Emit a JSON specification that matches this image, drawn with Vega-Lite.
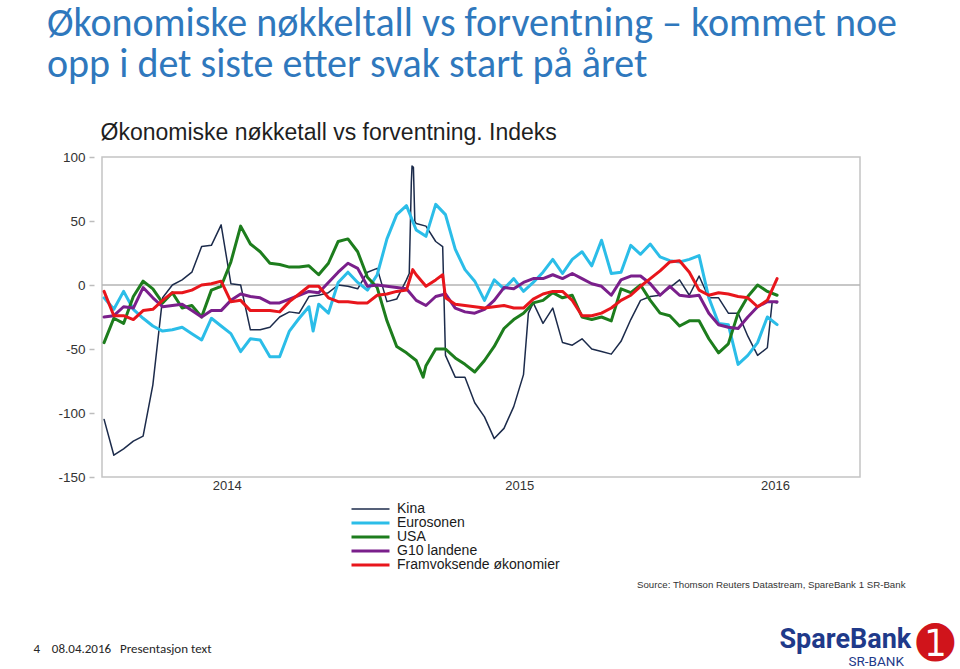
{
  "$schema": "https://vega.github.io/schema/vega-lite/v6.json",
  "width": 758,
  "height": 320,
  "autosize": {"type": "none"},
  "padding": {"left": 102, "top": 157, "right": 100, "bottom": 192},
  "background": "white",
  "title": {
    "text": ["Økonomiske nøkkeltall vs forventning – kommet noe", "opp i det siste etter svak start på året"],
    "anchor": "start",
    "frame": "group",
    "dx": -55,
    "offset": 36,
    "font": "Carlito, Lato",
    "fontSize": 40,
    "fontWeight": "normal",
    "color": "#2F78BD",
    "lineHeight": 41
  },
  "config": {
    "view": {"stroke": "#c4c4c4", "strokeWidth": 1.5},
    "axis": {"grid": false},
    "legend": {
      "orient": "none",
      "legendX": 248,
      "legendY": 345,
      "symbolType": "stroke",
      "symbolSize": 1444,
      "labelFont": "Liberation Sans",
      "labelFontSize": 14,
      "labelColor": "#1a1a1a",
      "labelOffset": 6,
      "labelLimit": 400,
      "rowPadding": -0.2,
      "padding": 0,
      "clipHeight": 14,
      "direction": "vertical"
    }
  },
  "resolve": {"axis": {"x": "independent", "y": "independent"}},
  "layer": [
    {
      "data": {"values": [{"ref": 0}]},
      "mark": {"type": "rule", "color": "#b5b5b5", "strokeWidth": 1.5},
      "encoding": {
        "x": {
          "datum": {"year": 2013, "month": 8, "date": 2, "utc": true},
          "type": "temporal",
          "axis": {
            "orient": "top", "labels": false, "ticks": false, "domain": false, "grid": false,
            "title": "Økonomiske nøkketall vs forventning. Indeks",
            "titleX": -2, "titleY": -18, "titleAlign": "left", "titleAnchor": "start", "titleBaseline": "alphabetic",
            "titleFont": "Liberation Sans", "titleFontSize": 23, "titleFontWeight": "normal", "titleColor": "#1f1f1f"
          }
        },
        "x2": {"datum": {"year": 2016, "month": 7, "date": 25, "utc": true}},
        "y": {
          "field": "ref",
          "type": "quantitative",
          "axis": {
            "orient": "right", "labels": false, "ticks": false, "domain": false, "grid": false,
            "title": "SpareBank",
            "titleAngle": 0, "titleX": -81, "titleY": 490, "titleAlign": "left", "titleAnchor": "start", "titleBaseline": "alphabetic",
            "titleFont": "Roboto", "titleFontSize": 27, "titleFontWeight": "bold", "titleColor": "#1F3A8A"
          }
        }
      }
    },
    {
      "data": {
        "values": [
          {"s": "Kina", "d": "2013-08-05", "v": -105}, {"s": "Kina", "d": "2013-08-19", "v": -133}, {"s": "Kina", "d": "2013-09-02", "v": -128}, {"s": "Kina", "d": "2013-09-16", "v": -122}, {"s": "Kina", "d": "2013-09-30", "v": -118},
          {"s": "Kina", "d": "2013-10-14", "v": -78}, {"s": "Kina", "d": "2013-10-28", "v": -10}, {"s": "Kina", "d": "2013-11-11", "v": 0}, {"s": "Kina", "d": "2013-11-25", "v": 4}, {"s": "Kina", "d": "2013-12-09", "v": 10},
          {"s": "Kina", "d": "2013-12-23", "v": 30}, {"s": "Kina", "d": "2014-01-06", "v": 31}, {"s": "Kina", "d": "2014-01-20", "v": 47}, {"s": "Kina", "d": "2014-02-03", "v": 1}, {"s": "Kina", "d": "2014-02-17", "v": 0},
          {"s": "Kina", "d": "2014-03-03", "v": -35}, {"s": "Kina", "d": "2014-03-17", "v": -35}, {"s": "Kina", "d": "2014-03-31", "v": -33}, {"s": "Kina", "d": "2014-04-14", "v": -25}, {"s": "Kina", "d": "2014-04-28", "v": -21},
          {"s": "Kina", "d": "2014-05-12", "v": -22}, {"s": "Kina", "d": "2014-05-26", "v": -9}, {"s": "Kina", "d": "2014-06-09", "v": -8}, {"s": "Kina", "d": "2014-06-23", "v": -6}, {"s": "Kina", "d": "2014-07-07", "v": 0},
          {"s": "Kina", "d": "2014-07-21", "v": -1}, {"s": "Kina", "d": "2014-08-04", "v": -3}, {"s": "Kina", "d": "2014-08-18", "v": 10}, {"s": "Kina", "d": "2014-09-01", "v": 13}, {"s": "Kina", "d": "2014-09-15", "v": -13},
          {"s": "Kina", "d": "2014-09-29", "v": -11}, {"s": "Kina", "d": "2014-10-13", "v": 4}, {"s": "Kina", "d": "2014-10-17", "v": 9}, {"s": "Kina", "d": "2014-10-20", "v": 80}, {"s": "Kina", "d": "2014-10-21", "v": 93},
          {"s": "Kina", "d": "2014-10-23", "v": 92}, {"s": "Kina", "d": "2014-10-25", "v": 50}, {"s": "Kina", "d": "2014-10-27", "v": 48}, {"s": "Kina", "d": "2014-11-10", "v": 46}, {"s": "Kina", "d": "2014-11-24", "v": 34},
          {"s": "Kina", "d": "2014-12-04", "v": 30}, {"s": "Kina", "d": "2014-12-08", "v": -55}, {"s": "Kina", "d": "2014-12-22", "v": -72}, {"s": "Kina", "d": "2015-01-05", "v": -72}, {"s": "Kina", "d": "2015-01-19", "v": -92},
          {"s": "Kina", "d": "2015-02-02", "v": -103}, {"s": "Kina", "d": "2015-02-16", "v": -120}, {"s": "Kina", "d": "2015-03-02", "v": -112}, {"s": "Kina", "d": "2015-03-16", "v": -95}, {"s": "Kina", "d": "2015-03-30", "v": -70},
          {"s": "Kina", "d": "2015-04-06", "v": -22}, {"s": "Kina", "d": "2015-04-13", "v": -14}, {"s": "Kina", "d": "2015-04-27", "v": -30}, {"s": "Kina", "d": "2015-05-11", "v": -18}, {"s": "Kina", "d": "2015-05-25", "v": -45},
          {"s": "Kina", "d": "2015-06-08", "v": -47}, {"s": "Kina", "d": "2015-06-22", "v": -42}, {"s": "Kina", "d": "2015-07-06", "v": -50}, {"s": "Kina", "d": "2015-07-20", "v": -52}, {"s": "Kina", "d": "2015-08-03", "v": -54},
          {"s": "Kina", "d": "2015-08-17", "v": -44}, {"s": "Kina", "d": "2015-08-31", "v": -27}, {"s": "Kina", "d": "2015-09-14", "v": -12}, {"s": "Kina", "d": "2015-09-28", "v": -9}, {"s": "Kina", "d": "2015-10-12", "v": -8},
          {"s": "Kina", "d": "2015-10-26", "v": -2}, {"s": "Kina", "d": "2015-11-09", "v": 4}, {"s": "Kina", "d": "2015-11-23", "v": -8}, {"s": "Kina", "d": "2015-12-07", "v": 7}, {"s": "Kina", "d": "2015-12-21", "v": -10},
          {"s": "Kina", "d": "2016-01-04", "v": -10}, {"s": "Kina", "d": "2016-01-18", "v": -22}, {"s": "Kina", "d": "2016-02-01", "v": -22}, {"s": "Kina", "d": "2016-02-15", "v": -40}, {"s": "Kina", "d": "2016-02-29", "v": -55},
          {"s": "Kina", "d": "2016-03-14", "v": -49}, {"s": "Kina", "d": "2016-03-21", "v": -13}, {"s": "Kina", "d": "2016-03-28", "v": -14},

          {"s": "Eurosonen", "d": "2013-08-05", "v": -10}, {"s": "Eurosonen", "d": "2013-08-19", "v": -19}, {"s": "Eurosonen", "d": "2013-09-02", "v": -5}, {"s": "Eurosonen", "d": "2013-09-16", "v": -19}, {"s": "Eurosonen", "d": "2013-09-30", "v": -26},
          {"s": "Eurosonen", "d": "2013-10-14", "v": -32}, {"s": "Eurosonen", "d": "2013-10-28", "v": -36}, {"s": "Eurosonen", "d": "2013-11-11", "v": -35}, {"s": "Eurosonen", "d": "2013-11-25", "v": -33}, {"s": "Eurosonen", "d": "2013-12-09", "v": -38},
          {"s": "Eurosonen", "d": "2013-12-23", "v": -43}, {"s": "Eurosonen", "d": "2014-01-06", "v": -26}, {"s": "Eurosonen", "d": "2014-01-20", "v": -32}, {"s": "Eurosonen", "d": "2014-02-03", "v": -38}, {"s": "Eurosonen", "d": "2014-02-17", "v": -52},
          {"s": "Eurosonen", "d": "2014-03-03", "v": -42}, {"s": "Eurosonen", "d": "2014-03-17", "v": -43}, {"s": "Eurosonen", "d": "2014-03-31", "v": -56}, {"s": "Eurosonen", "d": "2014-04-14", "v": -56}, {"s": "Eurosonen", "d": "2014-04-28", "v": -36},
          {"s": "Eurosonen", "d": "2014-05-12", "v": -26}, {"s": "Eurosonen", "d": "2014-05-26", "v": -17}, {"s": "Eurosonen", "d": "2014-06-01", "v": -36}, {"s": "Eurosonen", "d": "2014-06-09", "v": -15}, {"s": "Eurosonen", "d": "2014-06-23", "v": -22},
          {"s": "Eurosonen", "d": "2014-07-07", "v": 2}, {"s": "Eurosonen", "d": "2014-07-21", "v": 10}, {"s": "Eurosonen", "d": "2014-08-04", "v": 2}, {"s": "Eurosonen", "d": "2014-08-18", "v": -4}, {"s": "Eurosonen", "d": "2014-09-01", "v": 8},
          {"s": "Eurosonen", "d": "2014-09-15", "v": 36}, {"s": "Eurosonen", "d": "2014-09-29", "v": 55}, {"s": "Eurosonen", "d": "2014-10-13", "v": 62}, {"s": "Eurosonen", "d": "2014-10-27", "v": 43}, {"s": "Eurosonen", "d": "2014-11-10", "v": 38},
          {"s": "Eurosonen", "d": "2014-11-24", "v": 63}, {"s": "Eurosonen", "d": "2014-12-08", "v": 55}, {"s": "Eurosonen", "d": "2014-12-22", "v": 28}, {"s": "Eurosonen", "d": "2015-01-05", "v": 12}, {"s": "Eurosonen", "d": "2015-01-19", "v": 3},
          {"s": "Eurosonen", "d": "2015-02-02", "v": -12}, {"s": "Eurosonen", "d": "2015-02-16", "v": 4}, {"s": "Eurosonen", "d": "2015-03-02", "v": -3}, {"s": "Eurosonen", "d": "2015-03-16", "v": 5}, {"s": "Eurosonen", "d": "2015-03-30", "v": -5},
          {"s": "Eurosonen", "d": "2015-04-13", "v": 2}, {"s": "Eurosonen", "d": "2015-04-27", "v": 10}, {"s": "Eurosonen", "d": "2015-05-11", "v": 20}, {"s": "Eurosonen", "d": "2015-05-25", "v": 9}, {"s": "Eurosonen", "d": "2015-06-08", "v": 20},
          {"s": "Eurosonen", "d": "2015-06-22", "v": 26}, {"s": "Eurosonen", "d": "2015-07-06", "v": 15}, {"s": "Eurosonen", "d": "2015-07-20", "v": 35}, {"s": "Eurosonen", "d": "2015-08-03", "v": 9}, {"s": "Eurosonen", "d": "2015-08-17", "v": 10},
          {"s": "Eurosonen", "d": "2015-08-31", "v": 31}, {"s": "Eurosonen", "d": "2015-09-14", "v": 24}, {"s": "Eurosonen", "d": "2015-09-28", "v": 32}, {"s": "Eurosonen", "d": "2015-10-12", "v": 22}, {"s": "Eurosonen", "d": "2015-10-26", "v": 19},
          {"s": "Eurosonen", "d": "2015-11-09", "v": 18}, {"s": "Eurosonen", "d": "2015-11-23", "v": 20}, {"s": "Eurosonen", "d": "2015-12-07", "v": 23}, {"s": "Eurosonen", "d": "2015-12-21", "v": -10}, {"s": "Eurosonen", "d": "2016-01-04", "v": -30},
          {"s": "Eurosonen", "d": "2016-01-18", "v": -31}, {"s": "Eurosonen", "d": "2016-02-01", "v": -62}, {"s": "Eurosonen", "d": "2016-02-15", "v": -55}, {"s": "Eurosonen", "d": "2016-02-29", "v": -45}, {"s": "Eurosonen", "d": "2016-03-14", "v": -25},
          {"s": "Eurosonen", "d": "2016-03-28", "v": -31},

          {"s": "USA", "d": "2013-08-05", "v": -45}, {"s": "USA", "d": "2013-08-19", "v": -26}, {"s": "USA", "d": "2013-09-02", "v": -30}, {"s": "USA", "d": "2013-09-16", "v": -9}, {"s": "USA", "d": "2013-09-30", "v": 3},
          {"s": "USA", "d": "2013-10-14", "v": -3}, {"s": "USA", "d": "2013-10-28", "v": -14}, {"s": "USA", "d": "2013-11-11", "v": -6}, {"s": "USA", "d": "2013-11-25", "v": -18}, {"s": "USA", "d": "2013-12-09", "v": -16},
          {"s": "USA", "d": "2013-12-23", "v": -25}, {"s": "USA", "d": "2014-01-06", "v": -4}, {"s": "USA", "d": "2014-01-20", "v": -1}, {"s": "USA", "d": "2014-02-03", "v": 18}, {"s": "USA", "d": "2014-02-17", "v": 46},
          {"s": "USA", "d": "2014-03-03", "v": 32}, {"s": "USA", "d": "2014-03-17", "v": 26}, {"s": "USA", "d": "2014-03-31", "v": 17}, {"s": "USA", "d": "2014-04-14", "v": 16}, {"s": "USA", "d": "2014-04-28", "v": 14},
          {"s": "USA", "d": "2014-05-12", "v": 14}, {"s": "USA", "d": "2014-05-26", "v": 15}, {"s": "USA", "d": "2014-06-09", "v": 8}, {"s": "USA", "d": "2014-06-23", "v": 17}, {"s": "USA", "d": "2014-07-07", "v": 34},
          {"s": "USA", "d": "2014-07-21", "v": 36}, {"s": "USA", "d": "2014-08-04", "v": 26}, {"s": "USA", "d": "2014-08-18", "v": 6}, {"s": "USA", "d": "2014-09-01", "v": -2}, {"s": "USA", "d": "2014-09-15", "v": -28},
          {"s": "USA", "d": "2014-09-29", "v": -48}, {"s": "USA", "d": "2014-10-13", "v": -53}, {"s": "USA", "d": "2014-10-27", "v": -59}, {"s": "USA", "d": "2014-11-06", "v": -72}, {"s": "USA", "d": "2014-11-10", "v": -63},
          {"s": "USA", "d": "2014-11-24", "v": -50}, {"s": "USA", "d": "2014-12-08", "v": -50}, {"s": "USA", "d": "2014-12-22", "v": -57}, {"s": "USA", "d": "2015-01-05", "v": -62}, {"s": "USA", "d": "2015-01-19", "v": -68},
          {"s": "USA", "d": "2015-02-02", "v": -59}, {"s": "USA", "d": "2015-02-16", "v": -48}, {"s": "USA", "d": "2015-03-02", "v": -34}, {"s": "USA", "d": "2015-03-16", "v": -27}, {"s": "USA", "d": "2015-03-30", "v": -22},
          {"s": "USA", "d": "2015-04-13", "v": -14}, {"s": "USA", "d": "2015-04-27", "v": -12}, {"s": "USA", "d": "2015-05-11", "v": -6}, {"s": "USA", "d": "2015-05-25", "v": -10}, {"s": "USA", "d": "2015-06-08", "v": -8},
          {"s": "USA", "d": "2015-06-22", "v": -25}, {"s": "USA", "d": "2015-07-06", "v": -27}, {"s": "USA", "d": "2015-07-20", "v": -25}, {"s": "USA", "d": "2015-08-03", "v": -28}, {"s": "USA", "d": "2015-08-17", "v": -3},
          {"s": "USA", "d": "2015-08-31", "v": -6}, {"s": "USA", "d": "2015-09-14", "v": 0}, {"s": "USA", "d": "2015-09-28", "v": -12}, {"s": "USA", "d": "2015-10-12", "v": -22}, {"s": "USA", "d": "2015-10-26", "v": -24},
          {"s": "USA", "d": "2015-11-09", "v": -32}, {"s": "USA", "d": "2015-11-23", "v": -28}, {"s": "USA", "d": "2015-12-07", "v": -28}, {"s": "USA", "d": "2015-12-21", "v": -42}, {"s": "USA", "d": "2016-01-04", "v": -53},
          {"s": "USA", "d": "2016-01-18", "v": -46}, {"s": "USA", "d": "2016-02-01", "v": -22}, {"s": "USA", "d": "2016-02-15", "v": -9}, {"s": "USA", "d": "2016-02-29", "v": 0}, {"s": "USA", "d": "2016-03-14", "v": -5},
          {"s": "USA", "d": "2016-03-28", "v": -8},

          {"s": "G10 landene", "d": "2013-08-05", "v": -25}, {"s": "G10 landene", "d": "2013-08-19", "v": -24}, {"s": "G10 landene", "d": "2013-09-02", "v": -17}, {"s": "G10 landene", "d": "2013-09-16", "v": -18}, {"s": "G10 landene", "d": "2013-09-30", "v": -2},
          {"s": "G10 landene", "d": "2013-10-14", "v": -10}, {"s": "G10 landene", "d": "2013-10-28", "v": -17}, {"s": "G10 landene", "d": "2013-11-11", "v": -16}, {"s": "G10 landene", "d": "2013-11-25", "v": -15}, {"s": "G10 landene", "d": "2013-12-09", "v": -20},
          {"s": "G10 landene", "d": "2013-12-23", "v": -25}, {"s": "G10 landene", "d": "2014-01-06", "v": -20}, {"s": "G10 landene", "d": "2014-01-20", "v": -20}, {"s": "G10 landene", "d": "2014-02-03", "v": -12}, {"s": "G10 landene", "d": "2014-02-17", "v": -7},
          {"s": "G10 landene", "d": "2014-03-03", "v": -9}, {"s": "G10 landene", "d": "2014-03-17", "v": -10}, {"s": "G10 landene", "d": "2014-03-31", "v": -14}, {"s": "G10 landene", "d": "2014-04-14", "v": -14}, {"s": "G10 landene", "d": "2014-04-28", "v": -11},
          {"s": "G10 landene", "d": "2014-05-12", "v": -8}, {"s": "G10 landene", "d": "2014-05-26", "v": -5}, {"s": "G10 landene", "d": "2014-06-09", "v": -6}, {"s": "G10 landene", "d": "2014-06-23", "v": 2}, {"s": "G10 landene", "d": "2014-07-07", "v": 10},
          {"s": "G10 landene", "d": "2014-07-21", "v": 17}, {"s": "G10 landene", "d": "2014-08-04", "v": 13}, {"s": "G10 landene", "d": "2014-08-18", "v": -1}, {"s": "G10 landene", "d": "2014-09-01", "v": 0}, {"s": "G10 landene", "d": "2014-09-15", "v": -1},
          {"s": "G10 landene", "d": "2014-09-29", "v": -2}, {"s": "G10 landene", "d": "2014-10-13", "v": -3}, {"s": "G10 landene", "d": "2014-10-27", "v": -12}, {"s": "G10 landene", "d": "2014-11-10", "v": -16}, {"s": "G10 landene", "d": "2014-11-24", "v": -9},
          {"s": "G10 landene", "d": "2014-12-08", "v": -7}, {"s": "G10 landene", "d": "2014-12-22", "v": -18}, {"s": "G10 landene", "d": "2015-01-05", "v": -21}, {"s": "G10 landene", "d": "2015-01-19", "v": -22}, {"s": "G10 landene", "d": "2015-02-02", "v": -19},
          {"s": "G10 landene", "d": "2015-02-16", "v": -12}, {"s": "G10 landene", "d": "2015-03-02", "v": -2}, {"s": "G10 landene", "d": "2015-03-16", "v": -3}, {"s": "G10 landene", "d": "2015-03-30", "v": 2}, {"s": "G10 landene", "d": "2015-04-13", "v": 5},
          {"s": "G10 landene", "d": "2015-04-27", "v": 5}, {"s": "G10 landene", "d": "2015-05-11", "v": 8}, {"s": "G10 landene", "d": "2015-05-25", "v": 5}, {"s": "G10 landene", "d": "2015-06-08", "v": 9}, {"s": "G10 landene", "d": "2015-06-22", "v": 5},
          {"s": "G10 landene", "d": "2015-07-06", "v": 1}, {"s": "G10 landene", "d": "2015-07-20", "v": -1}, {"s": "G10 landene", "d": "2015-08-03", "v": -8}, {"s": "G10 landene", "d": "2015-08-17", "v": 4}, {"s": "G10 landene", "d": "2015-08-31", "v": 7},
          {"s": "G10 landene", "d": "2015-09-14", "v": 7}, {"s": "G10 landene", "d": "2015-09-28", "v": 1}, {"s": "G10 landene", "d": "2015-10-12", "v": -8}, {"s": "G10 landene", "d": "2015-10-26", "v": -1}, {"s": "G10 landene", "d": "2015-11-09", "v": -8},
          {"s": "G10 landene", "d": "2015-11-23", "v": -9}, {"s": "G10 landene", "d": "2015-12-07", "v": -8}, {"s": "G10 landene", "d": "2015-12-21", "v": -22}, {"s": "G10 landene", "d": "2016-01-04", "v": -31}, {"s": "G10 landene", "d": "2016-01-18", "v": -33},
          {"s": "G10 landene", "d": "2016-02-01", "v": -34}, {"s": "G10 landene", "d": "2016-02-15", "v": -25}, {"s": "G10 landene", "d": "2016-02-29", "v": -17}, {"s": "G10 landene", "d": "2016-03-14", "v": -13}, {"s": "G10 landene", "d": "2016-03-28", "v": -13},

          {"s": "Framvoksende økonomier", "d": "2013-08-05", "v": -5}, {"s": "Framvoksende økonomier", "d": "2013-08-19", "v": -24}, {"s": "Framvoksende økonomier", "d": "2013-09-02", "v": -24}, {"s": "Framvoksende økonomier", "d": "2013-09-16", "v": -27}, {"s": "Framvoksende økonomier", "d": "2013-09-30", "v": -20},
          {"s": "Framvoksende økonomier", "d": "2013-10-14", "v": -19}, {"s": "Framvoksende økonomier", "d": "2013-10-28", "v": -12}, {"s": "Framvoksende økonomier", "d": "2013-11-11", "v": -6}, {"s": "Framvoksende økonomier", "d": "2013-11-25", "v": -6}, {"s": "Framvoksende økonomier", "d": "2013-12-09", "v": -4},
          {"s": "Framvoksende økonomier", "d": "2013-12-23", "v": 0}, {"s": "Framvoksende økonomier", "d": "2014-01-06", "v": 1}, {"s": "Framvoksende økonomier", "d": "2014-01-20", "v": 3}, {"s": "Framvoksende økonomier", "d": "2014-02-03", "v": -13}, {"s": "Framvoksende økonomier", "d": "2014-02-17", "v": -12},
          {"s": "Framvoksende økonomier", "d": "2014-03-03", "v": -20}, {"s": "Framvoksende økonomier", "d": "2014-03-17", "v": -20}, {"s": "Framvoksende økonomier", "d": "2014-03-31", "v": -20}, {"s": "Framvoksende økonomier", "d": "2014-04-14", "v": -21}, {"s": "Framvoksende økonomier", "d": "2014-04-28", "v": -13},
          {"s": "Framvoksende økonomier", "d": "2014-05-12", "v": -7}, {"s": "Framvoksende økonomier", "d": "2014-05-26", "v": -1}, {"s": "Framvoksende økonomier", "d": "2014-06-09", "v": -1}, {"s": "Framvoksende økonomier", "d": "2014-06-23", "v": -10}, {"s": "Framvoksende økonomier", "d": "2014-07-07", "v": -13},
          {"s": "Framvoksende økonomier", "d": "2014-07-21", "v": -13}, {"s": "Framvoksende økonomier", "d": "2014-08-04", "v": -14}, {"s": "Framvoksende økonomier", "d": "2014-08-18", "v": -14}, {"s": "Framvoksende økonomier", "d": "2014-09-01", "v": -8}, {"s": "Framvoksende økonomier", "d": "2014-09-15", "v": -7},
          {"s": "Framvoksende økonomier", "d": "2014-09-29", "v": -5}, {"s": "Framvoksende økonomier", "d": "2014-10-13", "v": -4}, {"s": "Framvoksende økonomier", "d": "2014-10-22", "v": 12}, {"s": "Framvoksende økonomier", "d": "2014-10-27", "v": 8}, {"s": "Framvoksende økonomier", "d": "2014-11-10", "v": -1},
          {"s": "Framvoksende økonomier", "d": "2014-11-24", "v": 4}, {"s": "Framvoksende økonomier", "d": "2014-12-04", "v": 8}, {"s": "Framvoksende økonomier", "d": "2014-12-08", "v": -10}, {"s": "Framvoksende økonomier", "d": "2014-12-22", "v": -15}, {"s": "Framvoksende økonomier", "d": "2015-01-05", "v": -16},
          {"s": "Framvoksende økonomier", "d": "2015-01-19", "v": -17}, {"s": "Framvoksende økonomier", "d": "2015-02-02", "v": -18}, {"s": "Framvoksende økonomier", "d": "2015-02-16", "v": -17}, {"s": "Framvoksende økonomier", "d": "2015-03-02", "v": -16}, {"s": "Framvoksende økonomier", "d": "2015-03-16", "v": -18},
          {"s": "Framvoksende økonomier", "d": "2015-03-30", "v": -18}, {"s": "Framvoksende økonomier", "d": "2015-04-13", "v": -11}, {"s": "Framvoksende økonomier", "d": "2015-04-27", "v": -7}, {"s": "Framvoksende økonomier", "d": "2015-05-11", "v": -5}, {"s": "Framvoksende økonomier", "d": "2015-05-25", "v": -5},
          {"s": "Framvoksende økonomier", "d": "2015-06-08", "v": -12}, {"s": "Framvoksende økonomier", "d": "2015-06-22", "v": -24}, {"s": "Framvoksende økonomier", "d": "2015-07-06", "v": -24}, {"s": "Framvoksende økonomier", "d": "2015-07-20", "v": -22}, {"s": "Framvoksende økonomier", "d": "2015-08-03", "v": -18},
          {"s": "Framvoksende økonomier", "d": "2015-08-17", "v": -12}, {"s": "Framvoksende økonomier", "d": "2015-08-31", "v": -8}, {"s": "Framvoksende økonomier", "d": "2015-09-14", "v": -1}, {"s": "Framvoksende økonomier", "d": "2015-09-28", "v": 5}, {"s": "Framvoksende økonomier", "d": "2015-10-12", "v": 11},
          {"s": "Framvoksende økonomier", "d": "2015-10-26", "v": 18}, {"s": "Framvoksende økonomier", "d": "2015-11-09", "v": 19}, {"s": "Framvoksende økonomier", "d": "2015-11-23", "v": 10}, {"s": "Framvoksende økonomier", "d": "2015-12-07", "v": -4}, {"s": "Framvoksende økonomier", "d": "2015-12-21", "v": -8},
          {"s": "Framvoksende økonomier", "d": "2016-01-04", "v": -6}, {"s": "Framvoksende økonomier", "d": "2016-01-18", "v": -7}, {"s": "Framvoksende økonomier", "d": "2016-02-01", "v": -9}, {"s": "Framvoksende økonomier", "d": "2016-02-15", "v": -10}, {"s": "Framvoksende økonomier", "d": "2016-02-29", "v": -17},
          {"s": "Framvoksende økonomier", "d": "2016-03-14", "v": -12}, {"s": "Framvoksende økonomier", "d": "2016-03-28", "v": 5}
        ]
      },
      "mark": {"type": "line", "strokeJoin": "round", "strokeCap": "round"},
      "encoding": {
        "x": {
          "field": "d",
          "type": "temporal",
          "scale": {"type": "utc", "domain": [{"year": 2013, "month": 8, "date": 2, "utc": true}, {"year": 2016, "month": 7, "date": 25, "utc": true}]},
          "axis": {
            "orient": "bottom",
            "values": [{"year": 2014, "month": 1, "date": 28, "utc": true}, {"year": 2015, "month": 3, "date": 24, "utc": true}, {"year": 2016, "month": 3, "date": 25, "utc": true}],
            "format": "%Y",
            "domain": false, "ticks": false, "grid": false, "labelFlush": false,
            "labelPadding": 2, "labelFont": "Liberation Sans", "labelFontSize": 13, "labelColor": "#333333",
            "title": "Source: Thomson Reuters Datastream, SpareBank 1 SR-Bank",
            "titleX": 803, "titleY": 110, "titleAlign": "right", "titleAnchor": "end", "titleBaseline": "alphabetic",
            "titleFont": "Liberation Sans", "titleFontSize": 9.7, "titleFontWeight": "normal", "titleColor": "#333333"
          }
        },
        "y": {
          "field": "v",
          "type": "quantitative",
          "scale": {"domain": [-150, 100], "nice": false, "zero": false},
          "axis": {
            "orient": "left", "offset": 8,
            "values": [-150, -100, -50, 0, 50, 100],
            "labelExpr": "datum.value + ''",
            "domain": false, "grid": false, "ticks": true, "tickSize": 5, "tickColor": "#bdbdbd", "tickWidth": 1.5,
            "labelPadding": 4, "labelFont": "Liberation Sans", "labelFontSize": 13.5, "labelColor": "#333333",
            "title": "4\u00a0\u00a0\u00a0\u00a008.04.2016\u00a0\u00a0\u00a0Presentasjon text",
            "titleAngle": 0, "titleX": -61, "titleY": 495, "titleAlign": "left", "titleAnchor": "start", "titleBaseline": "alphabetic",
            "titleFont": "Carlito, Liberation Sans", "titleFontSize": 13, "titleFontWeight": "normal", "titleColor": "#262626"
          }
        },
        "color": {
          "field": "s",
          "type": "nominal",
          "scale": {
            "domain": ["Kina", "Eurosonen", "USA", "G10 landene", "Framvoksende økonomier"],
            "range": ["#1c2b4b", "#2bbde8", "#1d7d1d", "#7a1f8b", "#e8161c"]
          },
          "legend": {"title": null}
        },
        "strokeWidth": {
          "field": "s",
          "type": "nominal",
          "scale": {
            "type": "ordinal",
            "domain": ["Kina", "Eurosonen", "USA", "G10 landene", "Framvoksende økonomier"],
            "range": [1.5, 3, 3, 3, 3]
          },
          "legend": {"title": null}
        }
      }
    },
    {
      "data": {"values": [{"ref": 0}]},
      "mark": {"type": "rule", "opacity": 0},
      "encoding": {
        "x": {
          "datum": {"year": 2013, "month": 8, "date": 2, "utc": true},
          "type": "temporal",
          "axis": {
            "orient": "bottom", "labels": false, "ticks": false, "domain": false, "grid": false,
            "title": "SR-BANK",
            "titleX": 746, "titleY": 188, "titleAlign": "left", "titleAnchor": "start", "titleBaseline": "alphabetic",
            "titleFont": "Roboto", "titleFontSize": 13.5, "titleFontWeight": "normal", "titleColor": "#1F3A8A"
          }
        },
        "x2": {"datum": {"year": 2016, "month": 7, "date": 25, "utc": true}},
        "y": {
          "field": "ref",
          "type": "quantitative",
          "axis": {
            "orient": "right", "labels": false, "ticks": false, "domain": false, "grid": false,
            "title": "➊",
            "titleAngle": 0, "titleX": 75, "titleY": 487, "titleAlign": "center", "titleAnchor": "middle", "titleBaseline": "middle",
            "titleFont": "DejaVu Sans", "titleFontSize": 46, "titleFontWeight": "normal", "titleColor": "#D0141B"
          }
        }
      }
    }
  ]
}
